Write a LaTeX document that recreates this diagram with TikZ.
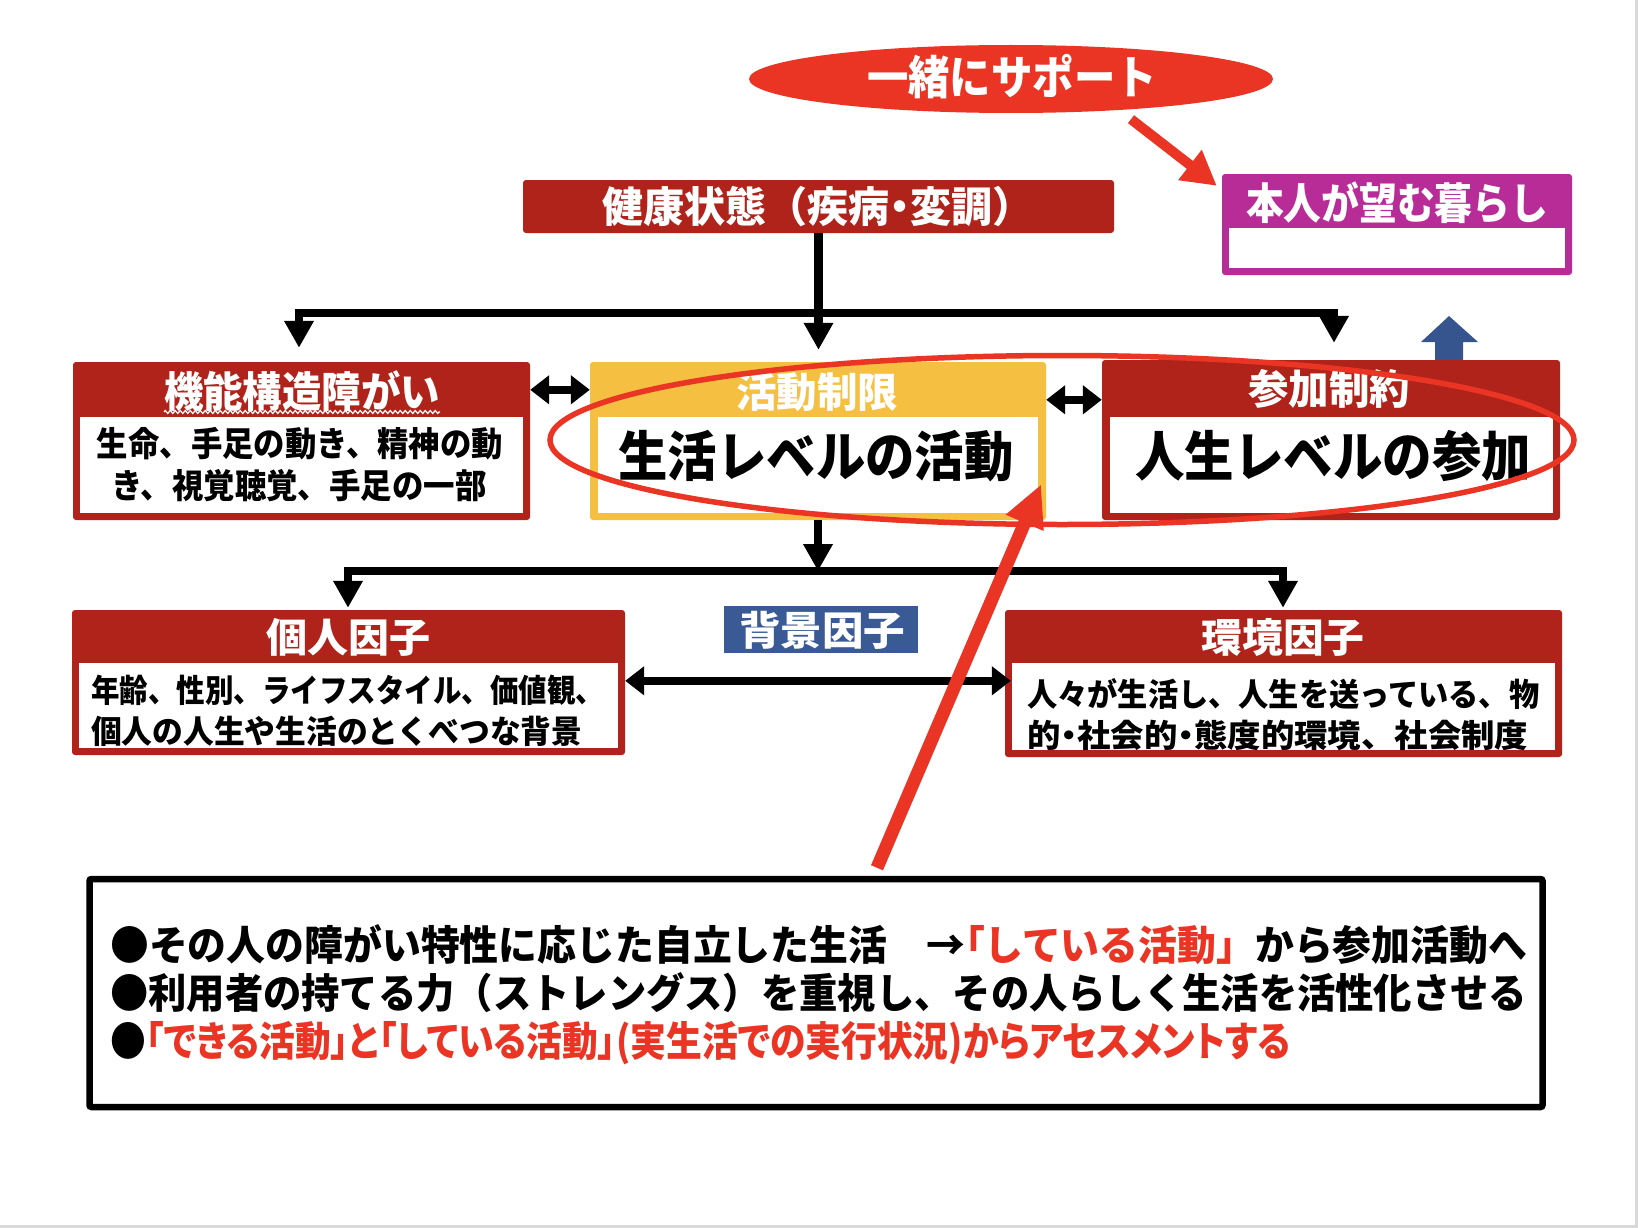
\documentclass[tikz,border=0pt]{standalone}
\usepackage{fontspec}
\usepackage{graphicx}
\setmainfont{Noto Sans CJK JP}[UprightFont=* Black, BoldFont=* Black]
\newfontfamily\paltfont{Noto Sans CJK JP}[UprightFont=* Black, BoldFont=* Black, RawFeature=+palt]
\usetikzlibrary{arrows.meta,shapes.geometric,calc,decorations.pathmorphing}
\definecolor{dkred}{HTML}{B0231B}
\definecolor{bred}{HTML}{EA3424}
\definecolor{yel}{HTML}{F5BF42}
\definecolor{blu}{HTML}{3A5A96}
\definecolor{mag}{HTML}{B82C98}
\definecolor{arrblue}{HTML}{36558F}
\definecolor{edgegrey}{HTML}{D9D9D9}
\newcommand\fitw[2]{\resizebox{#1}{\height}{#2}}
\newcommand\fs[1]{\fontsize{#1}{#1}\selectfont}
\newcommand\ndot{{\paltfont ・}}
\tikzset{
  txt/.style={inner sep=0pt, anchor=center},
  wtxt/.style={txt, text=white},
  ltxt/.style={inner sep=0pt, anchor=west},
  box/.style={rectangle, inner sep=0pt, rounded corners=3pt, fill=dkred},
  conn/.style={line width=8.5pt, black},
  arr/.style={conn, -{Triangle[length=27pt,width=28pt]}},
  darr/.style={conn, {Triangle[length=19pt,width=28pt]}-{Triangle[length=19pt,width=28pt]}},
}
\begin{document}
\begin{tikzpicture}[x=1pt,y=-1pt]
\useasboundingbox (0,0) rectangle (1638,1228);
\fill[white] (0,0) rectangle (1638,1228);
\fill[edgegrey] (0,1225) rectangle (1638,1228);
\fill[edgegrey] (1635,0) rectangle (1638,1228);

% support ellipse
\node[ellipse, fill=bred, minimum width=524pt, minimum height=68pt, inner sep=0pt] (sup) at (1011,79) {};
\node[wtxt, font=\fs{46}] (suptxt) at (1012,77) {\fitw{290pt}{一緒にサポート}};

% desired life
\node[box, fill=mag, minimum width=350pt, minimum height=101pt] (honnin) at (1397,224.5) {};
\fill[white] (1229,228) rectangle (1565,268);
\node[wtxt, font=\fs{43}] (honnintxt) at (1397,203) {\fitw{302pt}{本人が望む暮らし}};

% health condition
\node[box, minimum width=591pt, minimum height=53pt] (kenko) at (818.5,206.5) {};
\node[wtxt, font=\fs{42}] (kenkotxt) at (818,207) {\fitw{431pt}{健康状態（疾病\ndot 変調）}};

% blue up arrow
\fill[arrblue] (1435,362) -- (1435,342) -- (1421,342) -- (1449,316) -- (1478,342) -- (1463,342) -- (1463,362) -- cycle;

% body functions
\node[box, minimum width=457pt, minimum height=158pt] (kino) at (301.5,441) {};
\fill[white] (80,417) rectangle (523,513);
\node[wtxt, font=\fs{42}] (kinotxt) at (302,391) {\fitw{276pt}{機能構造障がい}};
\draw[white, line width=1.2pt, decorate, decoration={zigzag, segment length=5pt, amplitude=1.5pt}] (164,412) -- (440,412);
\node[txt, font=\fs{34}] (kino1) at (300,444) {\fitw{406pt}{生命、手足の動き、精神の動}};
\node[txt, font=\fs{34}] (kino2) at (299,486) {\fitw{375pt}{き、視覚聴覚、手足の一部}};

% activity
\node[box, fill=yel, minimum width=456pt, minimum height=158pt] (katsu) at (818,441) {};
\fill[white] (598,417) rectangle (1038,513);
\node[wtxt, font=\fs{41}] (katsutxt) at (817,392) {\fitw{162pt}{活動制限}};
\node[txt, font=\fs{54}] (katsubody) at (816,456) {\fitw{395pt}{生活レベルの活動}};

% participation
\node[box, minimum width=458pt, minimum height=160pt] (sanka) at (1331,440) {};
\fill[white] (1110,417) rectangle (1553,513);
\node[wtxt, font=\fs{41}] (sankatxt) at (1329,389) {\fitw{162pt}{参加制約}};
\node[txt, font=\fs{54}] (sankabody) at (1333,456) {\fitw{396pt}{人生レベルの参加}};

% personal factors
\node[box, minimum width=553pt, minimum height=145pt] (kojin) at (348.5,682.5) {};
\fill[white] (79,663) rectangle (618,748);
\node[wtxt, font=\fs{40}] (kojintxt) at (348,637) {\fitw{164pt}{個人因子}};
\node[ltxt, font=\fs{32}] (kojin1) at (91,690) {\fitw{513pt}{年齢、性別、ライフスタイル、価値観、}};
\node[ltxt, font=\fs{32}] (kojin2) at (91,731) {\fitw{491pt}{個人の人生や生活のとくべつな背景}};

% background factors
\node[rectangle, inner sep=0pt, fill=blu, minimum width=194pt, minimum height=47pt] (haikei) at (821,629.5) {};
\node[wtxt, font=\fs{40}] (haikeitxt) at (822,630) {\fitw{166pt}{背景因子}};

% environmental factors
\node[box, minimum width=557pt, minimum height=147pt] (kankyo) at (1283.5,683.5) {};
\fill[white] (1012,663) rectangle (1555,750);
\node[wtxt, font=\fs{40}] (kankyotxt) at (1283,637) {\fitw{163pt}{環境因子}};
\node[ltxt, font=\fs{32}] (kankyo1) at (1027,694) {\fitw{512pt}{人々が生活し、人生を送っている、物}};
\node[ltxt, font=\fs{32}] (kankyo2) at (1027,735) {\fitw{501pt}{的\ndot 社会的\ndot 態度的環境、社会制度}};

% connectors top
\coordinate (jl) at (299,313);
\coordinate (jr) at (1334,313);
\draw[conn, line cap=rect] (jl) -- (jr);
\draw[arr, shorten >=12pt] (kenko.south) -- (kenko.south |- katsu.north);
\draw[arr, shorten >=14pt] (jl) -- (jl |- kino.north);
\draw[arr, shorten >=17pt] (jr) -- (jr |- sanka.north);

% connectors middle
\coordinate (j2) at (818,571);
\coordinate (kl) at (348,571);
\coordinate (kr) at (1283,571);
\draw[conn, line cap=rect] (kl) -- (kr);
\draw[arr] (katsu.south) -- (j2);
\draw[arr, shorten >=2pt] (kl) -- (kl |- kojin.north);
\draw[arr, shorten >=2pt] (kr) -- (kr |- kankyo.north);

% double arrows
\draw[darr] ($(kino.north east)+(0,28)$) -- ($(katsu.north west)+(0,28)$);
\draw[darr] ($(katsu.north east)+(0,38)$) -- ($(sanka.north west)+(0,40)$);
\draw[darr] ($(kojin.north east)+(0,71)$) -- ($(kankyo.north west)+(6,71)$);

% note box
\node[draw, line width=6.5pt, rounded corners=2pt, inner sep=0pt, minimum width=1453pt, minimum height=228pt] (note) at (816,993) {};
\node[ltxt, font=\fs{41}] (note1) at (110,945) {\fitw{1417pt}{●その人の障がい特性に応じた自立した生活　→\textcolor{bred}{{\paltfont 「}している活動」}から参加活動へ}};
\node[ltxt, font=\fs{41}] (note2) at (110,993) {\fitw{1417pt}{●利用者の持てる力（ストレングス）を重視し、その人らしく生活を活性化させる}};
\node[ltxt, font=\fs{41}\paltfont] (note3) at (110,1043) {\fitw{1180pt}{●\textcolor{bred}{「できる活動」と「している活動」(実生活での実行状況)からアセスメントする}}};

% red focus ellipse
\node[ellipse, draw=bred, line width=5.5pt, inner sep=0pt, minimum width=1024pt, minimum height=169pt] (focus) at (1062,440) {};

% red arrows
\draw[bred, line width=10pt, -{Triangle[length=34pt,width=36pt]}] ($(sup.south)+(120,6)$) -- ($(honnin.north west)+(-5,12)$);
\draw[bred, line width=13pt, -{Triangle[length=42pt,width=38pt]}] ($(note.north)+(61,-8)$) -- ($(katsu.south east)+(-5,-36)$);
\end{tikzpicture}
\end{document}
